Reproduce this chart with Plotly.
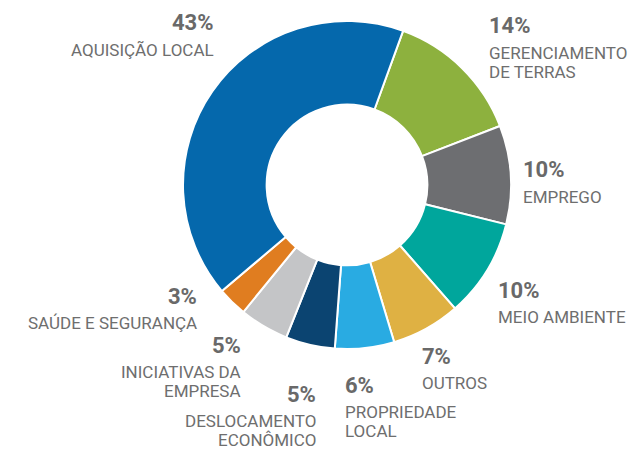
import plotly.graph_objects as go

# Slice data, listed clockwise starting from the green slice
categories = ["GERENCIAMENTO<br>DE TERRAS", "EMPREGO", "MEIO AMBIENTE", "OUTROS",
              "PROPRIEDADE<br>LOCAL", "DESLOCAMENTO<br>ECONÔMICO", "INICIATIVAS DA<br>EMPRESA",
              "SAÚDE E SEGURANÇA", "AQUISIÇÃO LOCAL"]
values = [14, 10, 10, 7, 6, 5, 5, 3, 43]
colors = ["#8db13e", "#6d6e71", "#00a69c", "#dfb143", "#29abe2",
          "#0b4471", "#c4c5c7", "#e07d20", "#0568ac"]

# Label anchor points (pixels from the top-left) and horizontal alignment
label_pos = [(487, 26, "left"), (521, 170, "left"), (496, 290, "left"), (420, 356, "left"),
             (343, 385, "left"), (318, 394, "right"), (243, 345, "right"),
             (199, 296, "right"), (216, 23, "right")]

W, H = 629, 449
cx, cy, r = 347, 185, 164

fig = go.Figure(go.Pie(
    labels=categories,
    values=values,
    marker=dict(colors=colors, line=dict(color="white", width=2)),
    hole=0.49,
    sort=False,
    direction="clockwise",
    rotation=20,
    textinfo="none",
    hoverinfo="label+percent",
    showlegend=False,
    domain=dict(x=[(cx - r) / W, (cx + r) / W], y=[1 - (cy + r) / H, 1 - (cy - r) / H]),
))

pct_font = dict(family="Roboto, sans-serif", size=22, color="#696969", weight="bold")
cat_font = dict(family="Roboto, sans-serif", size=17, color="#6e6e6e")

for cat, v, (x, y, align) in zip(categories, values, label_pos):
    fig.add_annotation(x=x / W, y=1 - y / H, xref="paper", yref="paper",
                       text=f"{v}%", showarrow=False, xanchor=align, yanchor="middle",
                       font=pct_font)
    # each category line is placed separately to keep a tight line pitch
    for i, line in enumerate(cat.split("<br>")):
        fig.add_annotation(x=x / W, y=1 - (y + 27 + 18.5 * i) / H, xref="paper", yref="paper",
                           text=line, showarrow=False, xanchor=align, yanchor="middle",
                           font=cat_font)

fig.update_layout(width=W, height=H, margin=dict(l=0, r=0, t=0, b=0),
                  paper_bgcolor="white", plot_bgcolor="white")

fig.write_html("out.html")
